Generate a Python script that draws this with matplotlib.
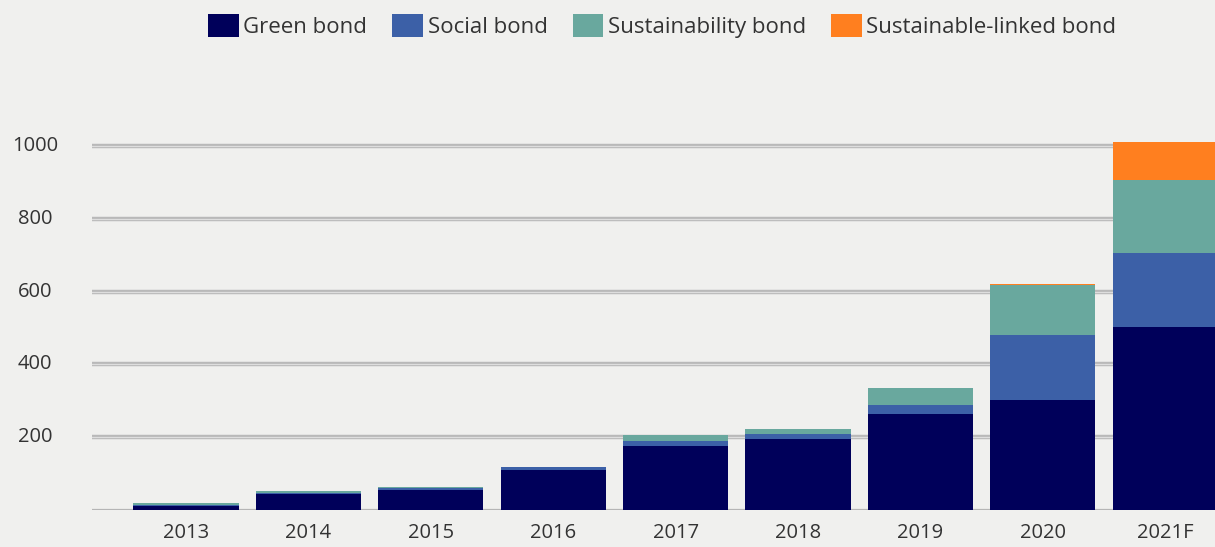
import matplotlib
matplotlib.use("Agg")
import matplotlib.pyplot as plt
from matplotlib.patches import Patch
import numpy as np

years = ["2013", "2014", "2015", "2016", "2017", "2018", "2019", "2020", "2021F"]
green_bond = [11, 43, 55, 110, 176, 195, 264, 302, 503]
social_bond = [3, 4, 6, 7, 14, 14, 24, 179, 203]
sustainability_bond = [4, 4, 3, 2, 16, 13, 47, 136, 202]
sustainable_linked_bond = [0, 0, 0, 0, 0, 0, 0, 5, 102]

series = [
    ("Green bond", green_bond, "#00005a"),
    ("Social bond", social_bond, "#3c60a7"),
    ("Sustainability bond", sustainability_bond, "#69a89e"),
    ("Sustainable-linked bond", sustainable_linked_bond, "#ff7f1f"),
]
yticks = [200, 400, 600, 800, 1000]

bg = "#f0f0ee"
text_color = "#333333"
plt.rcParams["font.family"] = ["Open Sans", "DejaVu Sans"]

FS = 14.5
W, H = 1215, 547
fig = plt.figure(figsize=(W / 100, H / 100), dpi=100, facecolor=bg)
ax = fig.add_axes([92 / W, (H - 510) / H, 1 - 92 / W, (510 - 130) / H])
ax.set_facecolor(bg)

x = np.arange(len(years))
bottom = np.zeros(len(years))
for name, vals, col in series:
    vals = np.array(vals, dtype=float)
    ax.bar(x, vals, width=0.86, bottom=bottom, color=col, zorder=3, linewidth=0)
    bottom += vals

# double-stroke gridlines
for yv in yticks:
    ax.axhline(yv, color="#b9b9b9", lw=3.2, zorder=1)
    ax.axhline(yv, color="#dedede", lw=0.9, zorder=1.5)
ax.axhline(0, color="#b5b5b5", lw=1.6, zorder=2)

ax.set_xlim(-0.768, 8.407)
ax.set_ylim(0, 1044)
for s in ax.spines.values():
    s.set_visible(False)
ax.set_xticks(x)
ax.set_xticklabels(years)
ax.set_yticks([])
ax.tick_params(axis="x", length=0, pad=9, labelsize=FS, labelcolor=text_color)

# y labels, centred in the left margin
for yv in yticks:
    ax.text(-0.768 - 57 / 122.4, yv, str(yv), ha="center", va="center",
            fontsize=FS, color=text_color, clip_on=False)

handles = [Patch(facecolor=c, edgecolor="none", label=n) for n, _, c in series]
fig.legend(handles=handles, loc="center", bbox_to_anchor=(0.545, 1 - 26 / H),
           ncol=4, frameon=False, fontsize=16, labelcolor=text_color,
           handlelength=1.39, handleheight=1.22, handletextpad=0.2,
           columnspacing=1.13)

fig.savefig("out.png", dpi=100, facecolor=bg)
